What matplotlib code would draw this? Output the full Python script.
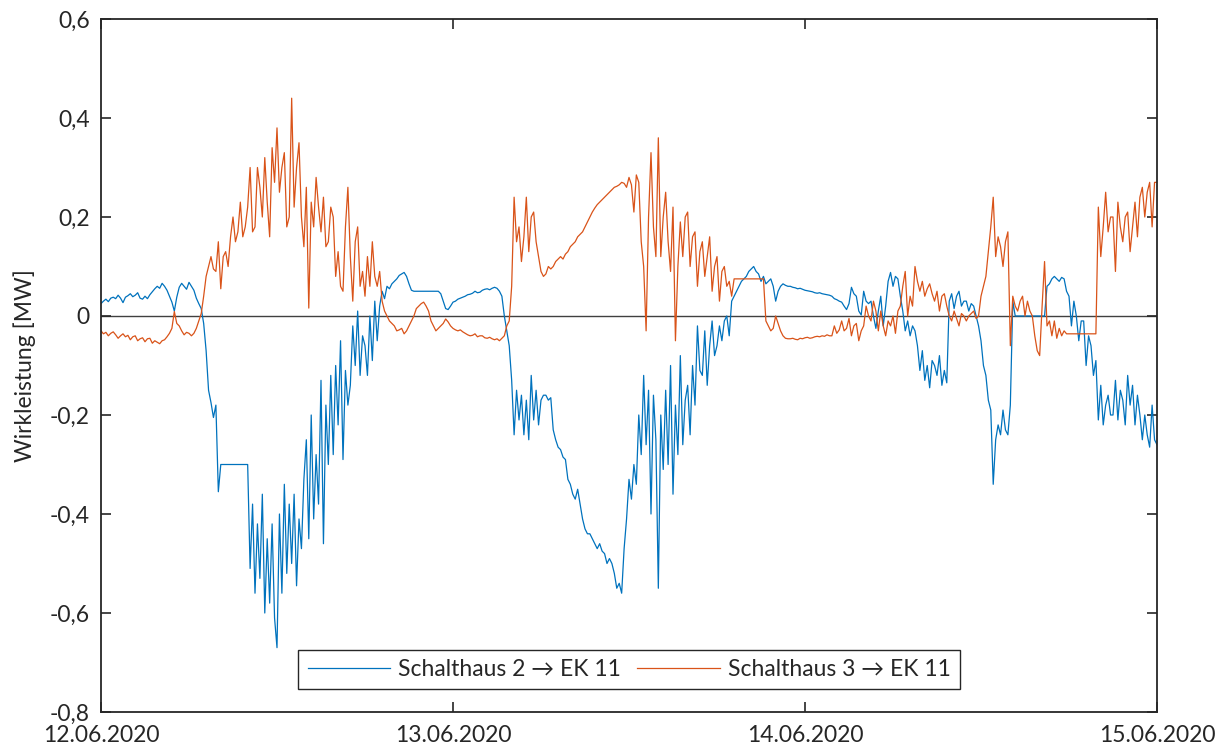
import numpy as np
import matplotlib
matplotlib.use("Agg")
import matplotlib.pyplot as plt
import matplotlib.dates as mdates
from matplotlib.ticker import FuncFormatter

# Wirkleistung in MW, one value every 10 minutes (6 per row = 1 hour), 12.06.2020 00:00 .. 15.06.2020 00:00
start_time = np.datetime64("2020-06-12T00:00")
step_minutes = 10

sh2_ek11 = [
    0.025, 0.030, 0.034, 0.029, 0.036, 0.038,
    0.035, 0.042, 0.036, 0.027, 0.038, 0.041,
    0.045, 0.039, 0.042, 0.047, 0.036, 0.034,
    0.040, 0.035, 0.043, 0.049, 0.055, 0.060,
    0.056, 0.066, 0.060, 0.052, 0.040, 0.028,
    0.010, 0.038, 0.058, 0.066, 0.060, 0.054,
    0.068, 0.060, 0.052, 0.036, 0.025, 0.015,
    -0.015, -0.070, -0.150, -0.175, -0.205, -0.180,
    -0.355, -0.300, -0.300, -0.300, -0.300, -0.300,
    -0.300, -0.300, -0.300, -0.300, -0.300, -0.300,
    -0.300, -0.510, -0.380, -0.560, -0.420, -0.530,
    -0.360, -0.600, -0.450, -0.580, -0.420, -0.610,
    -0.670, -0.400, -0.560, -0.340, -0.520, -0.380,
    -0.500, -0.360, -0.545, -0.410, -0.470, -0.330,
    -0.250, -0.450, -0.200, -0.410, -0.280, -0.380,
    -0.130, -0.460, -0.180, -0.300, -0.120, -0.280,
    -0.100, -0.220, -0.050, -0.290, -0.110, -0.180,
    -0.140, -0.020, -0.100, 0.010, -0.120, -0.040,
    -0.060, -0.120, 0.000, -0.090, 0.030, -0.050,
    0.020, 0.050, 0.035, 0.060, 0.055, 0.065,
    0.070, 0.075, 0.082, 0.085, 0.088, 0.080,
    0.065, 0.052, 0.050, 0.050, 0.050, 0.050,
    0.050, 0.050, 0.050, 0.050, 0.050, 0.050,
    0.050, 0.045, 0.030, 0.015, 0.013, 0.020,
    0.028, 0.030, 0.034, 0.036, 0.038, 0.040,
    0.043, 0.044, 0.046, 0.050, 0.047, 0.048,
    0.052, 0.054, 0.055, 0.053, 0.056, 0.058,
    0.056, 0.050, 0.040, 0.000, -0.030, -0.060,
    -0.130, -0.240, -0.150, -0.210, -0.160, -0.240,
    -0.170, -0.250, -0.120, -0.210, -0.150, -0.220,
    -0.170, -0.160, -0.160, -0.170, -0.165, -0.230,
    -0.250, -0.265, -0.270, -0.285, -0.290, -0.330,
    -0.340, -0.360, -0.370, -0.350, -0.380, -0.410,
    -0.430, -0.440, -0.440, -0.450, -0.460, -0.470,
    -0.460, -0.475, -0.480, -0.500, -0.490, -0.500,
    -0.520, -0.550, -0.540, -0.560, -0.470, -0.410,
    -0.330, -0.370, -0.300, -0.340, -0.200, -0.280,
    -0.120, -0.260, -0.150, -0.400, -0.160, -0.250,
    -0.550, -0.200, -0.310, -0.150, -0.300, -0.100,
    -0.360, -0.180, -0.280, -0.080, -0.260, -0.170,
    -0.140, -0.240, -0.100, -0.180, -0.020, -0.110,
    -0.120, -0.030, -0.140, -0.060, -0.010, -0.080,
    -0.060, -0.020, -0.050, -0.010, 0.000, -0.040,
    0.030, 0.040, 0.050, 0.060, 0.070, 0.075,
    0.080, 0.090, 0.095, 0.100, 0.090, 0.085,
    0.070, 0.080, 0.065, 0.070, 0.075, 0.060,
    0.030, 0.050, 0.060, 0.065, 0.062, 0.060,
    0.060, 0.058, 0.057, 0.055, 0.056, 0.054,
    0.052, 0.051, 0.050, 0.049, 0.047, 0.046,
    0.047, 0.045, 0.044, 0.043, 0.042, 0.040,
    0.035, 0.033, 0.030, 0.028, 0.020, 0.013,
    0.025, 0.058, 0.045, 0.040, 0.010, 0.002,
    0.050, 0.030, 0.025, 0.030, 0.000, -0.025,
    0.010, 0.040, -0.020, 0.020, 0.070, 0.088,
    0.060, 0.080, 0.075, 0.040, 0.010, -0.030,
    -0.010, -0.040, -0.020, -0.030, -0.060, -0.110,
    -0.070, -0.130, -0.100, -0.145, -0.090, -0.100,
    -0.120, -0.080, -0.140, -0.110, -0.135, 0.030,
    0.045, 0.015, 0.040, 0.050, 0.020, 0.030,
    0.030, 0.010, 0.025, 0.020, 0.000, -0.020,
    -0.050, -0.100, -0.120, -0.170, -0.190, -0.340,
    -0.250, -0.220, -0.240, -0.190, -0.230, -0.240,
    -0.180, 0.030, 0.000, 0.000, 0.000, 0.000,
    0.000, 0.000, 0.000, 0.000, 0.000, 0.000,
    0.000, 0.000, 0.000, 0.060, 0.065, 0.075,
    0.080, 0.075, 0.070, 0.078, 0.075, 0.050,
    0.040, -0.020, 0.030, 0.000, -0.050, -0.010,
    -0.010, -0.100, -0.040, -0.060, -0.120, -0.090,
    -0.210, -0.140, -0.220, -0.180, -0.160, -0.200,
    -0.200, -0.130, -0.210, -0.150, -0.170, -0.220,
    -0.120, -0.180, -0.140, -0.220, -0.160, -0.200,
    -0.250, -0.200, -0.240, -0.265, -0.180, -0.250,
    -0.260,
]

sh3_ek11 = [
    -0.030, -0.036, -0.033, -0.040, -0.035, -0.032,
    -0.038, -0.045, -0.040, -0.036, -0.042, -0.039,
    -0.048, -0.042, -0.040, -0.050, -0.046, -0.044,
    -0.052, -0.046, -0.045, -0.055, -0.050, -0.053,
    -0.056, -0.050, -0.048, -0.042, -0.035, -0.025,
    0.009, -0.015, -0.020, -0.030, -0.038, -0.033,
    -0.035, -0.040, -0.035, -0.025, -0.010, 0.005,
    0.040, 0.080, 0.100, 0.120, 0.095, 0.090,
    0.150, 0.055, 0.120, 0.130, 0.100, 0.160,
    0.200, 0.150, 0.170, 0.230, 0.160, 0.180,
    0.220, 0.300, 0.170, 0.180, 0.300, 0.260,
    0.200, 0.320, 0.230, 0.160, 0.340, 0.270,
    0.380, 0.250, 0.300, 0.330, 0.180, 0.200,
    0.440, 0.220, 0.300, 0.350, 0.200, 0.140,
    0.260, 0.016, 0.230, 0.180, 0.280, 0.220,
    0.170, 0.240, 0.140, 0.150, 0.220, 0.200,
    0.080, 0.130, 0.060, 0.050, 0.180, 0.260,
    0.120, 0.030, 0.150, 0.180, 0.060, 0.090,
    0.040, 0.120, 0.060, 0.150, 0.080, 0.060,
    0.090, 0.030, 0.010, 0.000, -0.010, -0.015,
    -0.020, -0.030, -0.028, -0.025, -0.036, -0.030,
    -0.020, -0.010, 0.000, 0.015, 0.020, 0.025,
    0.028, 0.020, 0.010, -0.010, -0.020, -0.030,
    -0.025, -0.020, -0.015, -0.006, -0.012, -0.020,
    -0.025, -0.028, -0.030, -0.028, -0.032, -0.035,
    -0.038, -0.040, -0.039, -0.036, -0.042, -0.040,
    -0.040, -0.044, -0.045, -0.043, -0.046, -0.048,
    -0.046, -0.050, -0.045, -0.040, -0.020, -0.010,
    0.060, 0.240, 0.150, 0.180, 0.110, 0.160,
    0.240, 0.130, 0.200, 0.210, 0.150, 0.120,
    0.090, 0.080, 0.085, 0.100, 0.095, 0.100,
    0.110, 0.115, 0.120, 0.115, 0.125, 0.130,
    0.140, 0.145, 0.150, 0.160, 0.165, 0.170,
    0.180, 0.190, 0.200, 0.210, 0.218, 0.225,
    0.230, 0.235, 0.240, 0.245, 0.250, 0.255,
    0.260, 0.262, 0.265, 0.270, 0.268, 0.260,
    0.280, 0.265, 0.210, 0.285, 0.270, 0.150,
    0.100, -0.030, 0.200, 0.330, 0.180, 0.120,
    0.360, 0.120, 0.200, 0.250, 0.150, 0.090,
    0.220, -0.050, 0.100, 0.190, 0.120, 0.200,
    0.210, 0.100, 0.160, 0.170, 0.060, 0.130,
    0.150, 0.080, 0.120, 0.160, 0.050, 0.100,
    0.120, 0.030, 0.090, 0.100, 0.060, 0.070,
    0.040, 0.075, 0.075, 0.075, 0.075, 0.075,
    0.075, 0.075, 0.075, 0.075, 0.075, 0.075,
    0.075, 0.075, -0.010, -0.020, -0.030, -0.025,
    0.000, -0.015, -0.030, -0.040, -0.045, -0.046,
    -0.046, -0.045, -0.047, -0.048, -0.045, -0.046,
    -0.044, -0.043, -0.045, -0.044, -0.042, -0.041,
    -0.042, -0.040, -0.041, -0.038, -0.040, -0.040,
    -0.020, -0.035, -0.028, -0.010, -0.030, -0.025,
    -0.005, -0.040, -0.020, -0.015, -0.050, -0.030,
    -0.020, 0.020, 0.000, -0.010, 0.030, 0.010,
    -0.030, 0.010, -0.020, -0.040, -0.010, -0.020,
    0.000, -0.035, 0.010, 0.020, 0.060, 0.090,
    0.000, 0.040, 0.020, 0.100, 0.070, 0.050,
    0.070, 0.040, 0.055, 0.065, 0.045, 0.030,
    0.050, 0.010, 0.040, 0.045, 0.020, 0.000,
    -0.010, 0.010, -0.005, -0.020, 0.005, 0.000,
    -0.010, 0.000, 0.005, 0.010, -0.005, 0.000,
    0.040, 0.060, 0.080, 0.130, 0.180, 0.240,
    0.120, 0.160, 0.140, 0.100, 0.150, 0.170,
    -0.060, 0.040, 0.020, 0.010, 0.030, 0.040,
    0.000, 0.030, 0.010, 0.000, -0.040, -0.070,
    -0.080, 0.020, 0.110, -0.020, -0.010, -0.040,
    -0.010, -0.045, -0.025, -0.040, -0.030, -0.036,
    -0.036, -0.036, -0.036, -0.036, -0.036, -0.036,
    -0.036, -0.036, -0.036, -0.036, -0.036, -0.036,
    0.220, 0.120, 0.180, 0.250, 0.170, 0.200,
    0.200, 0.090, 0.230, 0.180, 0.150, 0.200,
    0.210, 0.130, 0.180, 0.230, 0.160, 0.240,
    0.260, 0.200, 0.250, 0.270, 0.180, 0.270,
    0.270,
]

series_labels = ["Schalthaus 2 \u2192 EK 11", "Schalthaus 3 \u2192 EK 11"]
series_colors = ["#0072BD", "#D95319"]
y_ticks = [-0.8, -0.6, -0.4, -0.2, 0.0, 0.2, 0.4, 0.6]

plt.rcParams["font.family"] = ["Lato", "DejaVu Sans"]
plt.rcParams["font.size"] = 16.5

times = start_time + np.arange(len(sh2_ek11)) * np.timedelta64(step_minutes, "m")

fig = plt.figure(figsize=(12.25, 7.49), dpi=100)
ax = fig.add_axes([101 / 1225, 1 - 712 / 749, 1056 / 1225, 693 / 749])

ax.axhline(0, color="#404040", linewidth=1.0, zorder=1)
for values, label, color in zip([sh2_ek11, sh3_ek11], series_labels, series_colors):
    ax.plot(times, values, color=color, linewidth=0.9, label=label, zorder=2)

ax.set_xlim(times[0], times[-1])
ax.set_ylim(-0.8, 0.6)
ax.set_yticks(y_ticks)


def comma_fmt(v, pos):
    if abs(v) < 1e-9:
        return "0"
    return f"{v:.1f}".replace(".", ",")


ax.yaxis.set_major_formatter(FuncFormatter(comma_fmt))
ax.xaxis.set_major_locator(mdates.DayLocator())
ax.xaxis.set_major_formatter(mdates.DateFormatter("%d.%m.%Y"))

ax.tick_params(direction="in", length=7, width=1.2, color="#262626",
               top=True, right=True, labelcolor="#262626")
ax.tick_params(axis="x", pad=9)
ax.tick_params(axis="y", pad=8)
for spine in ax.spines.values():
    spine.set_linewidth(1.3)
    spine.set_color("#262626")

ax.set_ylabel("Wirkleistung [MW]", color="#262626", labelpad=10)

leg = ax.legend(loc="lower center", bbox_to_anchor=(0.5, 0.033), ncol=2,
                handlelength=3.6, columnspacing=0.7, handletextpad=0.35,
                borderpad=0.4, borderaxespad=0, fancybox=False, framealpha=1)
leg.get_frame().set_edgecolor("#262626")
leg.get_frame().set_linewidth(1.0)
for txt in leg.get_texts():
    txt.set_color("#262626")

fig.savefig("out.png", dpi=100)
